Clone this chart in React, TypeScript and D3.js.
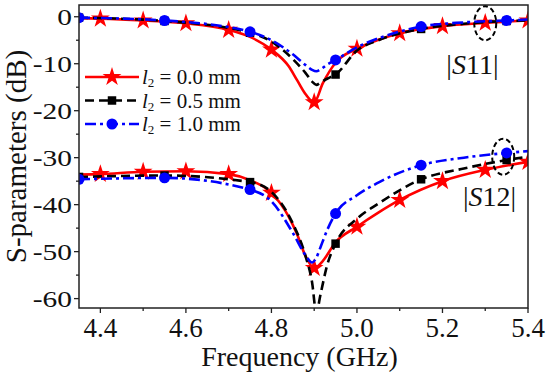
import React from 'react';
import * as d3 from 'd3';

// frequency grids (GHz) per series
const redFreq = [4.35, 4.4, 4.5, 4.6, 4.7, 4.75, 4.8, 4.84, 4.86, 4.88, 4.9, 4.92, 4.95, 5.0, 5.05, 5.1, 5.2, 5.3, 5.4];
const redS11 = [-0.3, -0.4, -0.8, -1.4, -2.8, -4.3, -7.0, -10.5, -13.5, -16.5, -18.2, -14.2, -9.8, -6.8, -4.9, -3.5, -2.0, -1.3, -0.8];
const redS12 = [-33.6, -33.5, -33.0, -32.9, -33.5, -34.8, -37.5, -42.5, -46.3, -51.0, -53.5, -52.0, -48.0, -44.7, -41.7, -39.0, -35.0, -32.6, -30.9];
const redMarks = [4.4, 4.5, 4.6, 4.7, 4.8, 4.9, 5.0, 5.1, 5.2, 5.3, 5.4];

const blackFreq = [4.35, 4.55, 4.75, 4.8, 4.85, 4.88, 4.895, 4.905, 4.915, 4.93, 4.95, 5.0, 5.05, 5.15, 5.25, 5.35, 5.4];
const blackS11 = [-0.2, -0.9, -3.4, -5.3, -9.0, -12.0, -13.8, -14.5, -14.0, -13.2, -12.3, -7.2, -5.0, -2.6, -1.5, -0.9, -0.8];
const blackS12 = [-34.1, -33.8, -35.2, -37.3, -44.0, -51.0, -56.5, -63.0, -59.0, -53.0, -48.3, -43.0, -39.8, -34.6, -32.3, -30.5, -29.8];

const blueFreq = blackFreq;
const blueS11 = [-0.2, -0.8, -3.2, -5.0, -8.0, -10.3, -11.3, -11.6, -11.2, -10.2, -9.2, -6.5, -4.6, -2.1, -1.2, -0.8, -0.6];
const blueS12 = [-34.6, -34.3, -36.8, -39.3, -46.0, -50.8, -52.3, -51.3, -49.0, -45.5, -41.9, -38.0, -35.3, -31.6, -30.0, -29.0, -28.6];
const squareMarks = [4.35, 4.55, 4.75, 4.95, 5.15, 5.35];

const xTicks = [4.4, 4.6, 4.8, 5.0, 5.2, 5.4];
const yTicks = [0, -10, -20, -30, -40, -50, -60];
const legendLabels = ['0.0 mm', '0.5 mm', '1.0 mm'];

const W = 550;
const H = 376;
const margin = { top: 5, right: 22, bottom: 68, left: 79 };
const serif = { fontFamily: "'Liberation Serif', 'Times New Roman', serif" };

export default function App() {
  const innerW = W - margin.left - margin.right;
  const innerH = H - margin.top - margin.bottom;

  const x = d3.scaleLinear().domain([4.35, 5.4]).range([0, innerW]);
  const y = d3.scaleLinear().domain([-62, 2.5]).range([innerH, 0]);

  const line = d3.line<[number, number]>()
    .x(d => x(d[0]))
    .y(d => y(d[1]))
    .curve(d3.curveMonotoneX);

  const zip = (f: number[], v: number[]) => f.map((d, i) => [d, v[i]] as [number, number]);
  const pick = (f: number[], v: number[], marks: number[]) =>
    marks.map(m => [m, v[f.indexOf(m)]] as [number, number]);

  const series = [
    { color: '#ff0000', dash: 'none', f: redFreq, s11: redS11, s12: redS12, marks: redMarks, sym: d3.symbolStar, size: 110 },
    { color: '#000000', dash: '9,5', f: blackFreq, s11: blackS11, s12: blackS12, marks: squareMarks, sym: d3.symbolSquare, size: 72 },
    { color: '#0000ff', dash: '11,4,3,4', f: blueFreq, s11: blueS11, s12: blueS12, marks: squareMarks, sym: d3.symbolCircle, size: 95 },
  ];

  const minorX = d3.range(4.4, 5.41, 0.1);
  const minorY = d3.range(-60, 1, 5);

  return (
    <svg width={W} height={H} style={{ position: 'absolute', left: 0, top: 0, background: '#fff' }}>
      <defs>
        <clipPath id="plot">
          <rect x={0} y={0} width={innerW} height={innerH} />
        </clipPath>
      </defs>
      <g transform={`translate(${margin.left},${margin.top})`} style={serif}>
        <g clipPath="url(#plot)">
          {series.map((s, i) => (
            <g key={i}>
              {[s.s11, s.s12].map((v, j) => (
                <g key={j}>
                  <path d={line(zip(s.f, v)) || ''} fill="none" stroke={s.color} strokeWidth={2.6} strokeDasharray={s.dash} />
                  {pick(s.f, v, s.marks).map((p, k) => (
                    <path key={k} d={d3.symbol().type(s.sym).size(s.size)() || ''} transform={`translate(${x(p[0])},${y(p[1])})`} fill={s.color} />
                  ))}
                </g>
              ))}
            </g>
          ))}
        </g>

        {/* frame */}
        <rect x={0} y={0} width={innerW} height={innerH} fill="none" stroke="#222" strokeWidth={1.5} />

        {/* x axis */}
        {minorX.map((t, i) => (
          <line key={i} x1={x(t)} x2={x(t)} y1={innerH} y2={innerH + (i % 2 === 0 ? 5 : 3)} stroke="#222" strokeWidth={1.3} />
        ))}
        {xTicks.map(t => (
          <text key={t} x={x(t)} y={innerH + 29} textAnchor="middle" fontSize={27} fill="#111">
            {t.toFixed(1)}
          </text>
        ))}
        <text x={innerW / 2 - 4} y={innerH + 58} textAnchor="middle" fontSize={28} fill="#111">
          Frequency (GHz)
        </text>

        {/* y axis */}
        {minorY.map((t, i) => (
          <line key={i} x1={0} x2={i % 2 === 0 ? -5 : -3} y1={y(t)} y2={y(t)} stroke="#222" strokeWidth={1.3} />
        ))}
        {yTicks.map(t => (
          <text key={t} transform={`translate(-7,${y(t) + 8}) scale(1.28,1)`} textAnchor="end" fontSize={23} fill="#111">
            {t === 0 ? '0' : `-${Math.abs(t)}`}
          </text>
        ))}
        <text transform={`translate(-53,${innerH / 2}) rotate(-90)`} textAnchor="middle" fontSize={29} fill="#111">
          S-parameters (dB)
        </text>

        {/* annotations */}
        <ellipse cx={x(5.3)} cy={y(-1.4)} rx={11} ry={17} fill="none" stroke="#000" strokeWidth={2} strokeDasharray="5,3" />
        <ellipse cx={x(5.342)} cy={y(-29.8)} rx={11} ry={18} fill="none" stroke="#000" strokeWidth={2} strokeDasharray="5,3" />
        <text x={x(5.27)} y={y(-12.2)} textAnchor="middle" fontSize={28} fill="#111">
          |<tspan fontStyle="italic">S</tspan>11|
        </text>
        <text x={x(5.31)} y={y(-40.3)} textAnchor="middle" fontSize={28} fill="#111">
          |<tspan fontStyle="italic">S</tspan>12|
        </text>

        {/* legend */}
        {series.map((s, i) => {
          const ly = 72 + i * 23.5;
          return (
            <g key={i}>
              <line x1={6} x2={60} y1={ly} y2={ly} stroke={s.color} strokeWidth={2.6} strokeDasharray={s.dash} />
              <path d={d3.symbol().type(s.sym).size(s.size)() || ''} transform={`translate(33,${ly})`} fill={s.color} />
              <text x={63} y={ly + 7} fontSize={21} fill="#111">
                <tspan fontStyle="italic">l</tspan>
                <tspan fontSize={13} dy={3}>2</tspan>
                <tspan dy={-3}> = {legendLabels[i]}</tspan>
              </text>
            </g>
          );
        })}
      </g>
    </svg>
  );
}
